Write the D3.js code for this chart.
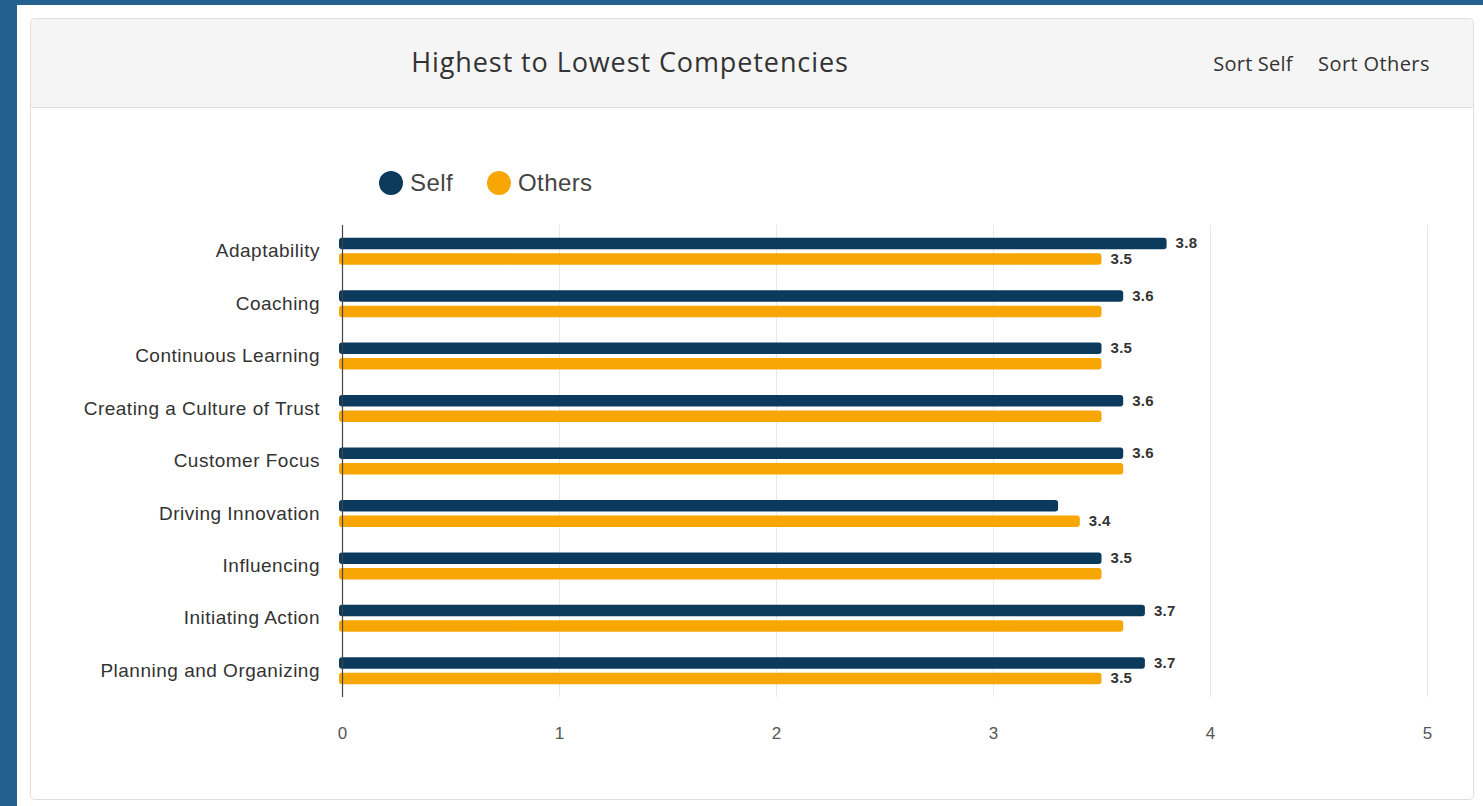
<!DOCTYPE html>
<html>
<head>
<meta charset="utf-8">
<script src="https://cdn.jsdelivr.net/npm/d3@7"></script>
<style>
  html, body { margin: 0; padding: 0; background: #24608f; }
  svg { display: block; }
</style>
</head>
<body>
<div id="chart"></div>
<script>
// competencies and scores
const competencies = ['Adaptability', 'Coaching', 'Continuous Learning', 'Creating a Culture of Trust',
  'Customer Focus', 'Driving Innovation', 'Influencing', 'Initiating Action', 'Planning and Organizing'];
const selfScores = [3.8, 3.6, 3.5, 3.6, 3.6, 3.3, 3.5, 3.7, 3.7];
const othersScores = [3.5, 3.5, 3.5, 3.5, 3.6, 3.4, 3.5, 3.6, 3.5];
const xTicks = [0, 1, 2, 3, 4, 5];
const seriesNames = ['Self', 'Others'];
const seriesColors = ['#0b3a5d', '#f8a603'];

const W = 1483, H = 806;
const svg = d3.select('#chart').append('svg')
  .attr('width', W).attr('height', H);

// white page area and the card
svg.append('rect').attr('x', 17).attr('y', 5).attr('width', W - 17).attr('height', H - 5).attr('fill', '#fff');
svg.append('rect').attr('x', 30.5).attr('y', 18.5).attr('width', 1443).attr('height', 781)
  .attr('rx', 4).attr('fill', '#fff').attr('stroke', '#dedede');
svg.append('path')
  .attr('d', 'M31,107 L31,23 Q31,19 35,19 L1469,19 Q1473,19 1473,23 L1473,107 Z')
  .attr('fill', '#f5f5f5');
svg.append('line').attr('x1', 31).attr('x2', 1473).attr('y1', 107.5).attr('y2', 107.5)
  .attr('stroke', '#e0e0e0');

svg.append('text').attr('x', 630).attr('y', 72)
  .attr('text-anchor', 'middle')
  .style('font-family', '"Open Sans", sans-serif').style('font-size', '27px')
  .style('letter-spacing', '0.9px').style('fill', '#333')
  .text('Highest to Lowest Competencies');
svg.append('text').attr('x', 1253).attr('y', 71)
  .attr('text-anchor', 'middle')
  .style('font-family', '"Open Sans", sans-serif').style('font-size', '20px')
  .style('letter-spacing', '0.2px').style('fill', '#333')
  .text('Sort Self');
svg.append('text').attr('x', 1374).attr('y', 71)
  .attr('text-anchor', 'middle')
  .style('font-family', '"Open Sans", sans-serif').style('font-size', '20px')
  .style('letter-spacing', '0.4px').style('fill', '#333')
  .text('Sort Others');

// plot area
const plotLeft = 342, plotRight = 1427, plotTop = 225, plotBottom = 697;
const x = d3.scaleLinear().domain([0, 5]).range([plotLeft, plotRight]);
const y = d3.scaleBand().domain(competencies).range([plotTop, plotBottom]);
const inner = d3.scaleBand().domain(seriesNames).range([0, 32]);

// vertical grid
svg.append('g').selectAll('line').data(xTicks.slice(1)).enter().append('line')
  .attr('x1', d => x(d) + 0.5).attr('x2', d => x(d) + 0.5)
  .attr('y1', plotTop).attr('y2', plotBottom)
  .attr('stroke', '#e8e8e8');

// x axis labels
const xAxis = svg.append('g').attr('transform', 'translate(0,' + (plotBottom + 27) + ')')
  .call(d3.axisBottom(x).tickValues(xTicks).tickSize(0).tickFormat(d3.format('d')));
xAxis.select('.domain').remove();
xAxis.selectAll('text')
  .style('font-family', '"Liberation Sans", Arial, sans-serif').style('font-size', '17px').style('fill', '#555');

// y axis labels
const yAxis = svg.append('g').attr('transform', 'translate(' + (plotLeft - 8) + ',0)')
  .call(d3.axisLeft(y).tickSize(0).tickPadding(14));
yAxis.select('.domain').remove();
yAxis.selectAll('text')
  .style('font-family', '"Liberation Sans", Arial, sans-serif').style('font-size', '19px')
  .style('letter-spacing', '0.5px').style('fill', '#333');

// build the bar rows
const rows = [];
competencies.forEach((c, i) => {
  const vals = [selfScores[i], othersScores[i]];
  vals.forEach((v, j) => {
    const other = vals[1 - j];
    // labels too close to the neighbour label are hidden (the larger one wins, Self on a tie)
    const close = Math.abs(x(v) - x(other)) < 35;
    const show = !close || v > other || (v === other && j === 0);
    rows.push({cat: c, series: seriesNames[j], value: v, color: seriesColors[j], show: show});
  });
});

const barH = 11.5;
const barY = d => y(d.cat) + y.bandwidth() / 2 - 16 + inner(d.series) + (d.series === 'Self' ? 2.5 : 2);

svg.append('g').selectAll('rect').data(rows).enter().append('rect')
  .attr('x', plotLeft - 3)
  .attr('y', barY)
  .attr('width', d => x(d.value) - plotLeft + 3)
  .attr('height', barH)
  .attr('rx', 3).attr('ry', 3)
  .attr('fill', d => d.color);

svg.append('g').selectAll('text').data(rows.filter(d => d.show)).enter().append('text')
  .attr('x', d => x(d.value) + 9)
  .attr('y', d => barY(d) + barH / 2 + 1)
  .attr('dominant-baseline', 'middle')
  .style('font-family', '"Liberation Sans", Arial, sans-serif').style('font-size', '15px')
  .style('letter-spacing', '0.3px')
  .style('font-weight', 'bold').style('fill', '#333')
  .text(d => d3.format('.1f')(d.value));

// axis line
svg.append('line').attr('x1', plotLeft + 0.5).attr('x2', plotLeft + 0.5).attr('y1', plotTop).attr('y2', plotBottom)
  .attr('stroke', '#444').attr('stroke-width', 1.2);

// legend
const legend = svg.append('g').selectAll('g').data(seriesNames).enter().append('g')
  .attr('transform', (d, i) => 'translate(' + [391, 499][i] + ',183)');
legend.append('circle').attr('r', 12).attr('fill', (d, i) => seriesColors[i]);
legend.append('text').attr('x', 19).attr('y', 8)
  .style('font-family', '"Liberation Sans", Arial, sans-serif').style('font-size', '24px')
  .style('letter-spacing', '0.4px').style('fill', '#444')
  .text(d => d);
</script>
</body>
</html>
